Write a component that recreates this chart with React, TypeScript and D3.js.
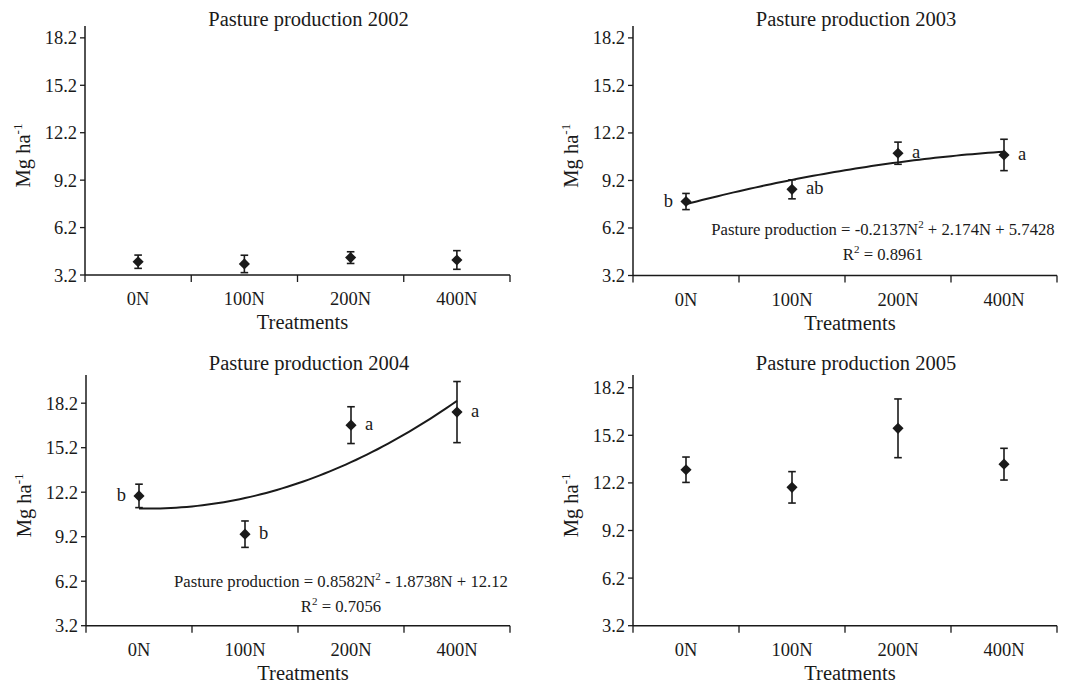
import * as React from 'react';
import * as d3 from 'd3';

// categories and tick values shared by the four panels
const treatments = ['0N', '100N', '200N', '400N'];
const yTicks = [3.2, 6.2, 9.2, 12.2, 15.2, 18.2];
const years = ['2002', '2003', '2004', '2005'];

// means and error (half bar), Mg ha-1
const means2002 = [4.04, 3.9, 4.3, 4.15];
const errors2002 = [0.42, 0.55, 0.37, 0.59];
const means2003 = [7.87, 8.64, 10.92, 10.81];
const errors2003 = [0.51, 0.6, 0.7, 0.99];
const means2004 = [11.95, 9.37, 16.72, 17.6];
const errors2004 = [0.79, 0.89, 1.24, 2.06];
const means2005 = [13.03, 11.92, 15.64, 13.38];
const errors2005 = [0.8, 0.99, 1.85, 1.0];

// significance letters
const letters2003 = ['b', 'ab', 'a', 'a'];
const letters2004 = ['b', 'b', 'a', 'a'];
const letterLeft2003 = [true, false, false, false];
const letterLeft2004 = [true, false, false, false];

// quadratic fits as printed on the chart: a*N^2 + b*N + c, N = 1..4
const fit2003 = [-0.2137, 2.174, 5.7428];
const fit2004 = [0.8582, -1.8738, 12.12];
const eq2003 = ['Pasture production = -0.2137N', ' + 2.174N + 5.7428'];
const eq2004 = ['Pasture production = 0.8582N', ' - 1.8738N + 12.12'];
const r2003 = '0.8961';
const r2004 = '0.7056';

const FONT = '"Liberation Serif", "Times New Roman", Times, serif';
const INK = '#1a1a1a';

type Panel = {
  year: string;
  means: number[];
  errors: number[];
  letters?: string[];
  letterLeft?: boolean[];
  fit?: number[];
  eq?: string[];
  r2?: string;
  left: number; right: number; top: number; bottom: number; yMax: number;
  eqX?: number; eqY?: number;
};

const panels: Panel[] = [
  { year: years[0], means: means2002, errors: errors2002,
    left: 85, right: 510, top: 26, bottom: 275, yMax: 18.95 },
  { year: years[1], means: means2003, errors: errors2003, letters: letters2003, letterLeft: letterLeft2003,
    fit: fit2003, eq: eq2003, r2: r2003,
    left: 633, right: 1057, top: 26, bottom: 275.5, yMax: 18.95, eqX: 883, eqY: 235 },
  { year: years[2], means: means2004, errors: errors2004, letters: letters2004, letterLeft: letterLeft2004,
    fit: fit2004, eq: eq2004, r2: r2004,
    left: 86, right: 510, top: 375, bottom: 625.7, yMax: 20.1, eqX: 341, eqY: 587 },
  { year: years[3], means: means2005, errors: errors2005,
    left: 633, right: 1057, top: 375, bottom: 625.7, yMax: 19.0 },
];

const App: React.FC = () => {
  const svgRef = React.useRef<SVGSVGElement>(null);

  React.useEffect(() => {
    const svg = d3.select(svgRef.current);
    svg.selectAll('*').remove();

    panels.forEach((p) => {
      const g = svg.append('g');
      const x = d3.scaleBand().domain(treatments).range([p.left, p.right]).padding(0);
      const y = d3.scaleLinear().domain([3.2, p.yMax]).range([p.bottom, p.top]);
      const cx = (t: string) => (x(t) as number) + x.bandwidth() / 2;

      // axes
      g.append('line')
        .attr('x1', p.left).attr('x2', p.left).attr('y1', p.top).attr('y2', p.bottom)
        .attr('stroke', INK).attr('stroke-width', 1.5);
      g.append('line')
        .attr('x1', p.left).attr('x2', p.right).attr('y1', p.bottom).attr('y2', p.bottom)
        .attr('stroke', INK).attr('stroke-width', 1.5);

      // y ticks
      g.selectAll('.yt').data(yTicks).enter().append('line')
        .attr('x1', p.left - 5).attr('x2', p.left)
        .attr('y1', (d) => y(d)).attr('y2', (d) => y(d))
        .attr('stroke', INK).attr('stroke-width', 1.3);
      g.selectAll('.yl').data(yTicks).enter().append('text')
        .attr('x', p.left - 8).attr('y', (d) => y(d) + 6.5)
        .attr('text-anchor', 'end')
        .attr('font-family', FONT).attr('font-size', 18.5).attr('fill', INK)
        .text((d) => d3.format('.1f')(d));

      // x ticks at band edges
      const edges = treatments.map((t) => x(t) as number).concat([p.right]);
      g.selectAll('.xt').data(edges).enter().append('line')
        .attr('x1', (d) => d).attr('x2', (d) => d)
        .attr('y1', p.bottom).attr('y2', p.bottom + 7)
        .attr('stroke', INK).attr('stroke-width', 1.3);
      g.selectAll('.xl').data(treatments).enter().append('text')
        .attr('x', (d) => cx(d)).attr('y', p.bottom + 30)
        .attr('text-anchor', 'middle')
        .attr('font-family', FONT).attr('font-size', 18.5).attr('fill', INK)
        .text((d) => d);

      // titles and axis labels
      const midX = (p.left + p.right) / 2;
      g.append('text')
        .attr('x', midX + 11).attr('y', p.top + (p.top > 100 ? -5 : 0))
        .attr('text-anchor', 'middle')
        .attr('font-family', FONT).attr('font-size', 20.5).attr('fill', INK)
        .text('Pasture production ' + p.year);
      g.append('text')
        .attr('x', midX + 5).attr('y', p.bottom + 54)
        .attr('text-anchor', 'middle')
        .attr('font-family', FONT).attr('font-size', 20.5).attr('fill', INK)
        .text('Treatments');
      const yl = g.append('text')
        .attr('transform', `translate(${p.left - 55},${(p.top + p.bottom) / 2 + 5}) rotate(-90)`)
        .attr('text-anchor', 'middle')
        .attr('font-family', FONT).attr('font-size', 20.5).attr('fill', INK);
      yl.append('tspan').text('Mg ha');
      yl.append('tspan').attr('dy', -8).attr('font-size', 13).text('-1');

      // fitted curve
      if (p.fit) {
        const [a, b, c] = p.fit;
        const nx = d3.scaleLinear().domain([1, 4]).range([cx(treatments[0]), cx(treatments[3])]);
        const ns = d3.range(1, 4.0001, 0.05);
        const line = d3.line<number>()
          .x((n) => nx(n))
          .y((n) => y(a * n * n + b * n + c));
        g.append('path').datum(ns)
          .attr('d', line)
          .attr('fill', 'none').attr('stroke', INK).attr('stroke-width', 2);
      }

      // error bars
      treatments.forEach((t, i) => {
        const px = cx(t);
        const hi = y(p.means[i] + p.errors[i]);
        const lo = y(p.means[i] - p.errors[i]);
        g.append('line').attr('x1', px).attr('x2', px).attr('y1', hi).attr('y2', lo)
          .attr('stroke', INK).attr('stroke-width', 1.6);
        [hi, lo].forEach((yy) => {
          g.append('line').attr('x1', px - 3.8).attr('x2', px + 3.8).attr('y1', yy).attr('y2', yy)
            .attr('stroke', INK).attr('stroke-width', 1.6);
        });
      });

      // diamonds
      const diamond = d3.symbol().type(d3.symbolSquare).size(62);
      g.selectAll('.pt').data(treatments).enter().append('path')
        .attr('d', diamond as any)
        .attr('transform', (t, i) => `translate(${cx(t)},${y(p.means[i])}) rotate(45)`)
        .attr('fill', INK);

      // letters
      if (p.letters) {
        treatments.forEach((t, i) => {
          const leftSide = p.letterLeft ? p.letterLeft[i] : false;
          g.append('text')
            .attr('x', cx(t) + (leftSide ? -13 : 14))
            .attr('y', y(p.means[i]) + 5)
            .attr('text-anchor', leftSide ? 'end' : 'start')
            .attr('font-family', FONT).attr('font-size', 18.5).attr('fill', INK)
            .text(p.letters![i]);
        });
      }

      // equation + R2
      if (p.eq && p.r2) {
        const eq = g.append('text')
          .attr('x', p.eqX!).attr('y', p.eqY!)
          .attr('text-anchor', 'middle')
          .attr('font-family', FONT).attr('font-size', 16.7).attr('fill', INK);
        eq.append('tspan').text(p.eq[0]);
        eq.append('tspan').attr('dy', -7).attr('font-size', 11).text('2');
        eq.append('tspan').attr('dy', 7).text(p.eq[1]);
        const r = g.append('text')
          .attr('x', p.eqX!).attr('y', p.eqY! + 25)
          .attr('text-anchor', 'middle')
          .attr('font-family', FONT).attr('font-size', 16.7).attr('fill', INK);
        r.append('tspan').text('R');
        r.append('tspan').attr('dy', -7).attr('font-size', 11).text('2');
        r.append('tspan').attr('dy', 7).text(' = ' + p.r2);
      }
    });
  }, []);

  return (
    <svg ref={svgRef} width={1070} height={687}
      style={{ position: 'absolute', left: 0, top: 0, background: '#fff' }}></svg>
  );
};

export default App;
